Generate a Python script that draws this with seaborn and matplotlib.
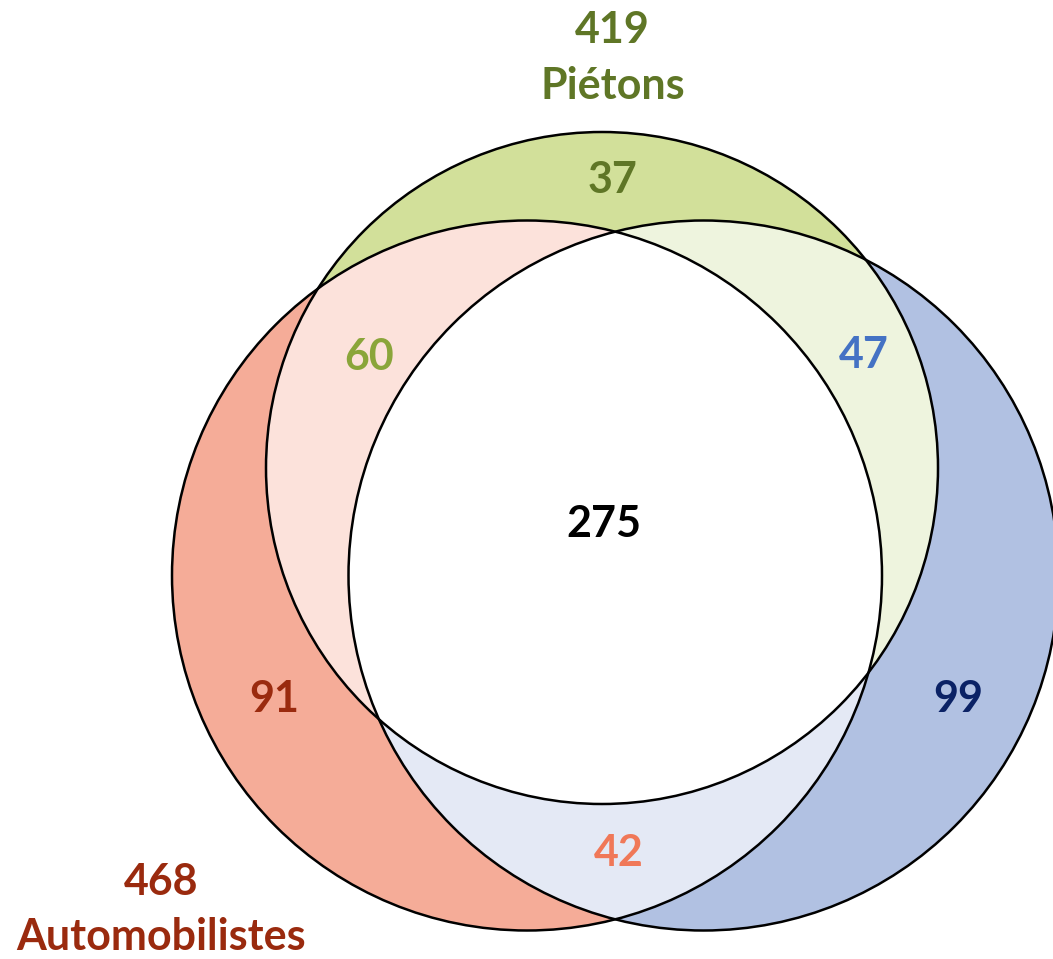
import numpy as np
import matplotlib
matplotlib.use("Agg")
import matplotlib.pyplot as plt
import seaborn as sns
from matplotlib.patches import Circle, PathPatch
from matplotlib.path import Path

# ---------------- data ----------------
set_names = ["Piétons", "Automobilistes", ""]
set_totals = [419, 468, None]
# regions: G only, R only, B only, G&R, G&B, R&B, G&R&B
region_names = ["G", "R", "B", "GR", "GB", "RB", "GRB"]
region_values = [37, 91, 99, 60, 47, 42, 275]

# ---------------- style ----------------
region_fill = {"G": "#D2E09A", "R": "#F5AC98", "B": "#B1C1E2",
               "GR": "#FCE2DB", "GB": "#EEF4DE", "RB": "#E4E9F5", "GRB": "#FFFFFF"}
region_text = {"G": "#5F7626", "R": "#9A2A0E", "B": "#0B2265",
               "GR": "#8AA53A", "GB": "#4472C4", "RB": "#F07858", "GRB": "#000000"}
title_colors = ["#5F7626", "#9A2A0E"]

# geometry (pixel layout)
centers = {"G": (602.0, 468.0), "R": (527.0, 575.5), "B": (703.5, 575.5)}
radii = {"G": 336.0, "R": 355.0, "B": 355.0}
label_pos = {"G": (613, 193), "R": (274, 712), "B": (958, 712),
             "GR": (369, 370), "GB": (864, 368), "RB": (619, 866), "GRB": (604, 537)}
title_pos = [[(612, 43), (613, 99)], [(161, 895), (161, 950)]]

sns.set_theme(style="white")
plt.rcParams['font.family'] = ['Lato', 'DejaVu Sans']

fig = plt.figure(figsize=(10.53, 9.59), dpi=100)
ax = fig.add_axes([0, 0, 1, 1])
ax.set_xlim(0, 1053)
ax.set_ylim(959, 0)
ax.axis("off")


def circ(key, **kw):
    c = Circle(centers[key], radii[key], **kw)
    c.set_transform(ax.transData)
    return c


def lens_path(k1, k2, n=400):
    c1 = np.array(centers[k1]); c2 = np.array(centers[k2])
    r1 = radii[k1]; r2 = radii[k2]
    v = c2 - c1
    d = np.hypot(*v)
    th = np.arctan2(v[1], v[0])
    a = np.arccos((d**2 + r1**2 - r2**2) / (2 * d * r1))
    b = np.arccos((d**2 + r2**2 - r1**2) / (2 * d * r2))
    t1 = np.linspace(th - a, th + a, n)
    t2 = np.linspace(th + np.pi - b, th + np.pi + b, n)
    p1 = np.c_[c1[0] + r1 * np.cos(t1), c1[1] + r1 * np.sin(t1)]
    p2 = np.c_[c2[0] + r2 * np.cos(t2), c2[1] + r2 * np.sin(t2)]
    pts = np.vstack([p1, p2, p1[:1]])
    return Path(pts, closed=True)


def clipped(key, color, clip):
    p = Circle(centers[key], radii[key], facecolor=color, edgecolor="none", zorder=1)
    ax.add_patch(p)
    p.set_clip_path(clip)
    return p

# single sets
ax.add_patch(Circle(centers["R"], radii["R"], facecolor=region_fill["R"], edgecolor="none", zorder=1))
ax.add_patch(Circle(centers["B"], radii["B"], facecolor=region_fill["B"], edgecolor="none", zorder=1))
clipped("B", region_fill["RB"], circ("R"))
ax.add_patch(Circle(centers["G"], radii["G"], facecolor=region_fill["G"], edgecolor="none", zorder=1))
clipped("G", region_fill["GR"], circ("R"))
clipped("G", region_fill["GB"], circ("B"))
lens = PathPatch(lens_path("R", "B"), transform=ax.transData)
clipped("G", region_fill["GRB"], lens)

# outlines
for k in ["R", "B", "G"]:
    ax.add_patch(Circle(centers[k], radii[k], facecolor="none", edgecolor="black",
                        linewidth=1.8, zorder=3))

fs = 31
for name, val in zip(region_names, region_values):
    x, y = label_pos[name]
    ax.text(x, y, str(val), ha="center", va="baseline", fontsize=fs,
            fontweight="bold", color=region_text[name], zorder=5)

for i in range(2):
    (x1, y1), (x2, y2) = title_pos[i]
    ax.text(x1, y1, str(set_totals[i]), ha="center", va="baseline", fontsize=fs,
            fontweight="bold", color=title_colors[i], zorder=5)
    ax.text(x2, y2, set_names[i], ha="center", va="baseline", fontsize=fs,
            fontweight="bold", color=title_colors[i], zorder=5)

fig.savefig("out.png", dpi=100)
